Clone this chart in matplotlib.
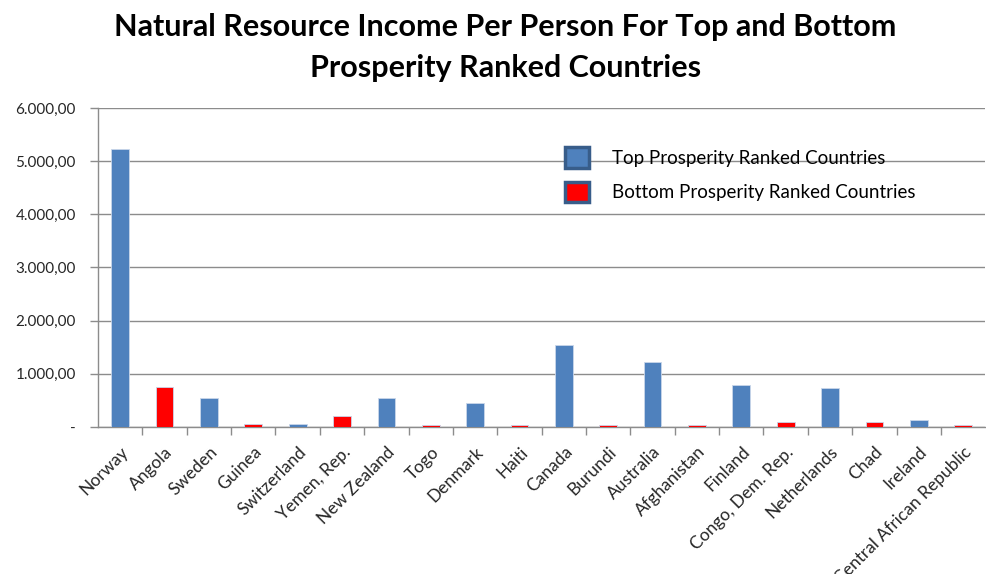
import matplotlib.pyplot as plt
import numpy as np
from matplotlib.patches import Patch
from matplotlib.ticker import FixedLocator, FuncFormatter

countries = ["Norway", "Angola", "Sweden", "Guinea", "Switzerland", "Yemen, Rep.",
             "New Zealand", "Togo", "Denmark", "Haiti", "Canada", "Burundi",
             "Australia", "Afghanistan", "Finland", "Congo, Dem. Rep.", "Netherlands",
             "Chad", "Ireland", "Central African Republic"]
income = [5225, 752, 540, 55, 50, 212, 540, 35, 451, 32, 1541, 35,
          1227, 32, 789, 87, 733, 87, 137, 35]
# True for top prosperity ranked countries, False for bottom
is_top = [True, False] * 10

blue = "#4f81bd"
red = "#ff0000"
colors = [blue if t else red for t in is_top]

plt.rcParams["font.family"] = ["Lato", "DejaVu Sans"]

fig = plt.figure(figsize=(9.87, 5.74), dpi=100)
ax = fig.add_axes([0.0993, 0.256, 0.899, 0.556])

x = np.arange(len(countries))
ax.bar(x, income, width=0.4, color=colors, edgecolor="#c9d6ea", linewidth=0.6, zorder=3)

ax.set_xlim(-0.5, len(countries) - 0.5)
ax.set_ylim(0, 6000)

def fmt(v, pos):
    if v == 0:
        return "-"
    s = "{:,.2f}".format(v)
    return s.replace(",", "X").replace(".", ",").replace("X", ".")

ax.yaxis.set_major_locator(FixedLocator(np.arange(0, 6001, 1000)))
ax.yaxis.set_major_formatter(FuncFormatter(fmt))
ax.tick_params(axis="y", direction="out", length=6, color="#8c8c8c", width=1,
               labelsize=11, labelcolor="#262626", pad=10)
ax.yaxis.grid(True, color="#8c8c8c", linewidth=1, zorder=0)

# category labels at centres, tick marks on category boundaries
ax.set_xticks(x)
ax.set_xticklabels(countries, rotation=45, ha="right", rotation_mode="anchor",
                   fontsize=12.5, color="#262626")
ax.tick_params(axis="x", length=0, pad=12)
ax.set_xticks(np.arange(0.5, len(countries) - 0.5, 1), minor=True)
ax.tick_params(axis="x", which="minor", direction="out", length=6, color="#8c8c8c", width=1)

for side in ["top", "right"]:
    ax.spines[side].set_visible(False)
for side in ["left", "bottom"]:
    ax.spines[side].set_color("#8c8c8c")
    ax.spines[side].set_linewidth(1)

handles = [Patch(facecolor=blue, edgecolor="#385d8a", linewidth=2.5),
           Patch(facecolor=red, edgecolor="#385d8a", linewidth=2.5)]
ax.legend(handles, ["Top Prosperity Ranked Countries", "Bottom Prosperity Ranked Countries"],
          loc="upper left", bbox_to_anchor=(0.526, 0.877), frameon=False,
          borderpad=0, borderaxespad=0,
          fontsize=13.5, handlelength=1.3, handleheight=1.3, handletextpad=1.2,
          labelspacing=0.75)

fig.text(0.512, 0.978, "Natural Resource Income Per Person For Top and Bottom\nProsperity Ranked Countries",
         ha="center", va="top", fontsize=22, fontweight="bold", linespacing=1.6)

fig.savefig("out.png", dpi=100)
